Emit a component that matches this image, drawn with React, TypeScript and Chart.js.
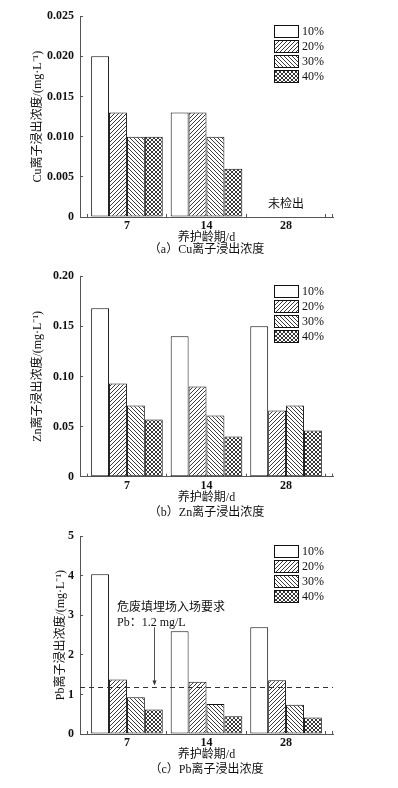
import React, { useEffect, useRef } from 'react';
import { Chart, registerables } from 'chart.js';

Chart.register(...registerables);

const FONT = '"Liberation Serif", "Noto Sans CJK SC", serif';
Chart.defaults.font.family = FONT;
Chart.defaults.color = '#111';

// ---------- data ----------
const categories = ['7', '14', '28'];
const seriesLabels = ['10%', '20%', '30%', '40%'];

const cu10 = [0.020, 0.013, null];
const cu20 = [0.013, 0.013, null];
const cu30 = [0.010, 0.010, null];
const cu40 = [0.010, 0.006, null];

const zn10 = [0.168, 0.140, 0.150];
const zn20 = [0.093, 0.090, 0.066];
const zn30 = [0.071, 0.061, 0.071];
const zn40 = [0.057, 0.040, 0.046];

const pb10 = [4.04, 2.60, 2.70];
const pb20 = [1.38, 1.32, 1.36];
const pb30 = [0.93, 0.76, 0.74];
const pb40 = [0.62, 0.45, 0.42];

const cuTickValues = [0, 0.005, 0.01, 0.015, 0.02, 0.025];
const cuTickLabels = ['0', '0.005', '0.010', '0.015', '0.020', '0.025'];
const znTickValues = [0, 0.05, 0.1, 0.15, 0.2];
const znTickLabels = ['0', '0.05', '0.10', '0.15', '0.20'];
const pbTickValues = [0, 1, 2, 3, 4, 5];
const pbTickLabels = ['0', '1', '2', '3', '4', '5'];

const pbLimit = 1.2;
const pbLimitText1 = '危废填埋场入场要求';
const pbLimitText2 = 'Pb：1.2 mg/L';
const cuNoteText = '未检出';

// ---------- patterns ----------
function makePattern(kind: string): any {
  if (kind === 'none') return '#ffffff';
  const s = 4;
  const c = document.createElement('canvas');
  c.width = s;
  c.height = s;
  const g = c.getContext('2d')!;
  g.fillStyle = '#ffffff';
  g.fillRect(0, 0, s, s);
  g.strokeStyle = '#222';
  g.lineWidth = 0.9;
  const fwd = () => {
    g.beginPath();
    g.moveTo(-1, s + 1); g.lineTo(s + 1, -1);
    g.moveTo(-1, 1); g.lineTo(1, -1);
    g.moveTo(s - 1, s + 1); g.lineTo(s + 1, s - 1);
    g.stroke();
  };
  const back = () => {
    g.beginPath();
    g.moveTo(-1, -1); g.lineTo(s + 1, s + 1);
    g.moveTo(s - 1, -1); g.lineTo(s + 1, 1);
    g.moveTo(-1, s - 1); g.lineTo(1, s + 1);
    g.stroke();
  };
  if (kind === 'fwd') fwd();
  if (kind === 'back') back();
  if (kind === 'cross') { fwd(); back(); }
  return g.createPattern(c, 'repeat');
}

const patternKinds = ['none', 'fwd', 'back', 'cross'];

// ---------- plugins ----------
const legendPlugin = {
  id: 'boxLegend',
  afterDraw(chart: any) {
    const { ctx, chartArea } = chart;
    const left = Math.round(chartArea.right - 59);
    chart.data.datasets.forEach((ds: any, i: number) => {
      const top = Math.round(chartArea.top + 9 + i * 15);
      ctx.save();
      ctx.fillStyle = ds.backgroundColor;
      ctx.fillRect(left, top, 25, 13);
      ctx.strokeStyle = '#111';
      ctx.lineWidth = 1;
      ctx.strokeRect(left + 0.5, top + 0.5, 24, 12);
      ctx.fillStyle = '#111';
      ctx.font = '12px ' + FONT;
      ctx.textBaseline = 'middle';
      ctx.textAlign = 'left';
      ctx.fillText(ds.label, left + 28, top + 7);
      ctx.restore();
    });
  },
};

const axisEndPlugin = {
  id: 'axisEnd',
  afterDraw(chart: any) {
    const { ctx, chartArea } = chart;
    ctx.save();
    ctx.strokeStyle = '#555';
    ctx.lineWidth = 1;
    ctx.beginPath();
    ctx.moveTo(Math.round(chartArea.right) - 0.5, chartArea.bottom);
    ctx.lineTo(Math.round(chartArea.right) - 0.5, chartArea.bottom - 3);
    ctx.stroke();
    ctx.restore();
  },
};

type Note = { text: string; x: number; y: number; align: CanvasTextAlign };

function notesPlugin(notes: Note[]) {
  return {
    id: 'notes',
    afterDraw(chart: any) {
      const { ctx, scales } = chart;
      ctx.save();
      ctx.fillStyle = '#111';
      ctx.font = '12px ' + FONT;
      ctx.textBaseline = 'middle';
      notes.forEach((n) => {
        ctx.textAlign = n.align;
        ctx.fillText(n.text, scales.x.getPixelForValue(n.x), scales.y.getPixelForValue(n.y));
      });
      ctx.restore();
    },
  };
}

function limitPlugin(limit: number, arrowX: number, arrowFrom: number) {
  return {
    id: 'limitLine',
    afterDatasetsDraw(chart: any) {
      const { ctx, chartArea, scales } = chart;
      const y = Math.round(scales.y.getPixelForValue(limit)) + 0.5;
      ctx.save();
      ctx.strokeStyle = '#333';
      ctx.lineWidth = 1;
      ctx.setLineDash([5, 4]);
      ctx.beginPath();
      ctx.moveTo(chartArea.left, y);
      ctx.lineTo(chartArea.right, y);
      ctx.stroke();
      ctx.setLineDash([]);
      const ax = Math.round(scales.x.getPixelForValue(arrowX)) + 0.5;
      const ay0 = scales.y.getPixelForValue(arrowFrom);
      const ay1 = scales.y.getPixelForValue(limit) - 1;
      ctx.strokeStyle = '#555';
      ctx.beginPath();
      ctx.moveTo(ax, ay0);
      ctx.lineTo(ax, ay1 - 4);
      ctx.stroke();
      ctx.fillStyle = '#333';
      ctx.beginPath();
      ctx.moveTo(ax - 2, ay1 - 5);
      ctx.lineTo(ax + 2, ay1 - 5);
      ctx.lineTo(ax, ay1);
      ctx.closePath();
      ctx.fill();
      ctx.restore();
    },
  };
}

// ---------- panels ----------
type PanelCfg = {
  top: number;
  height: number;
  padTop: number;
  padBottom: number;
  capPadTop: number;
  yTitlePad: number;
  yTitle: string;
  caption: string;
  series: (number | null)[][];
  yMax: number;
  tickValues: number[];
  tickLabels: string[];
  extraPlugins: any[];
};

const panels: PanelCfg[] = [
  {
    top: 0, height: 260, padTop: 16, padBottom: 4, capPadTop: 0, yTitlePad: 32,
    yTitle: 'Cu离子浸出浓度/(mg·L⁻¹)', caption: '（a）Cu离子浸出浓度',
    series: [cu10, cu20, cu30, cu40], yMax: 0.025,
    tickValues: cuTickValues, tickLabels: cuTickLabels,
    extraPlugins: [notesPlugin([{ text: cuNoteText, x: 2, y: 0.0015, align: 'center' }])],
  },
  {
    top: 260, height: 260, padTop: 11.7, padBottom: 0.7, capPadTop: 3.6, yTitlePad: 32,
    yTitle: 'Zn离子浸出浓度/(mg·L⁻¹)', caption: '（b）Zn离子浸出浓度',
    series: [zn10, zn20, zn30, zn40], yMax: 0.2,
    tickValues: znTickValues, tickLabels: znTickLabels,
    extraPlugins: [],
  },
  {
    top: 520, height: 268, padTop: 12.3, padBottom: 12, capPadTop: 3, yTitlePad: 55,
    yTitle: 'Pb离子浸出浓度/(mg·L⁻¹)', caption: '（c）Pb离子浸出浓度',
    series: [pb10, pb20, pb30, pb40], yMax: 5,
    tickValues: pbTickValues, tickLabels: pbTickLabels,
    extraPlugins: [
      limitPlugin(pbLimit, 0.34, 2.7),
      notesPlugin([
        { text: pbLimitText1, x: -0.125, y: 3.2, align: 'left' },
        { text: pbLimitText2, x: -0.125, y: 2.8, align: 'left' },
      ]),
    ],
  },
];

function Panel({ cfg }: { cfg: PanelCfg }) {
  const ref = useRef<HTMLCanvasElement>(null);
  useEffect(() => {
    const patterns = patternKinds.map(makePattern);
    const chart = new Chart(ref.current!, {
      type: 'bar',
      data: {
        datasets: cfg.series.map((arr, i) => ({
          label: seriesLabels[i],
          data: arr.map((v, j) => ({ x: j, y: v })),
          backgroundColor: patterns[i],
          borderColor: '#111',
          borderWidth: 1,
          borderSkipped: false,
          categoryPercentage: 0.9,
          barPercentage: 1,
        })),
      } as any,
      options: {
        responsive: false,
        animation: false,
        layout: { padding: { left: 0, right: 65, top: cfg.padTop, bottom: cfg.padBottom } },
        plugins: {
          legend: { display: false },
          tooltip: { enabled: false },
          title: {
            display: true,
            position: 'bottom',
            fullSize: false,
            text: cfg.caption,
            color: '#111',
            font: { size: 12, weight: 'normal', lineHeight: 1 },
            padding: { top: cfg.capPadTop, bottom: 0 },
          },
        },
        scales: {
          x: {
            type: 'linear',
            min: -0.59,
            max: 2.59,
            offset: false,
            afterBuildTicks: (s: any) => {
              s.ticks = categories.map((_, i) => ({ value: i }));
            },
            afterFit: (s: any) => {
              s.height = 27;
            },
            ticks: {
              callback: (v: any) => categories[v] ?? '',
              font: { size: 12, weight: 'bold' },
              color: '#111',
              padding: 5,
              maxRotation: 0,
              autoSkip: false,
            },
            grid: { drawOnChartArea: false, drawTicks: true, tickLength: -3, color: '#555' },
            border: { color: '#555', width: 1 },
            title: {
              display: true,
              text: '养护龄期/d',
              color: '#111',
              font: { size: 12, lineHeight: 1 },
              padding: { top: 0, bottom: 0 },
            },
          },
          y: {
            min: 0,
            max: cfg.yMax,
            afterBuildTicks: (s: any) => {
              s.ticks = cfg.tickValues.map((v) => ({ value: v }));
            },
            afterFit: (s: any) => {
              s.width = 80;
            },
            ticks: {
              callback: (_v: any, i: number) => cfg.tickLabels[i],
              font: { size: 12, weight: 'bold' },
              color: '#111',
              padding: 9,
            },
            grid: { drawOnChartArea: false, drawTicks: true, tickLength: -3, color: '#555' },
            border: { color: '#555', width: 1 },
            title: {
              display: true,
              text: cfg.yTitle,
              color: '#111',
              font: { size: 12, lineHeight: 1 },
              padding: { top: cfg.yTitlePad, bottom: 0 },
            },
          },
        },
      } as any,
      plugins: [legendPlugin, axisEndPlugin, ...cfg.extraPlugins],
    });
    return () => chart.destroy();
  }, []);
  return (
    <div style={{ position: 'absolute', left: 0, top: cfg.top, width: 398, height: cfg.height }}>
      <canvas ref={ref} width={398} height={cfg.height} style={{ width: 398, height: cfg.height, display: 'block' }} />
    </div>
  );
}

export default function App() {
  return (
    <div style={{ position: 'absolute', left: 0, top: 0, width: 398, height: 788, background: '#fff' }}>
      {panels.map((p, i) => (
        <Panel key={i} cfg={p} />
      ))}
    </div>
  );
}
